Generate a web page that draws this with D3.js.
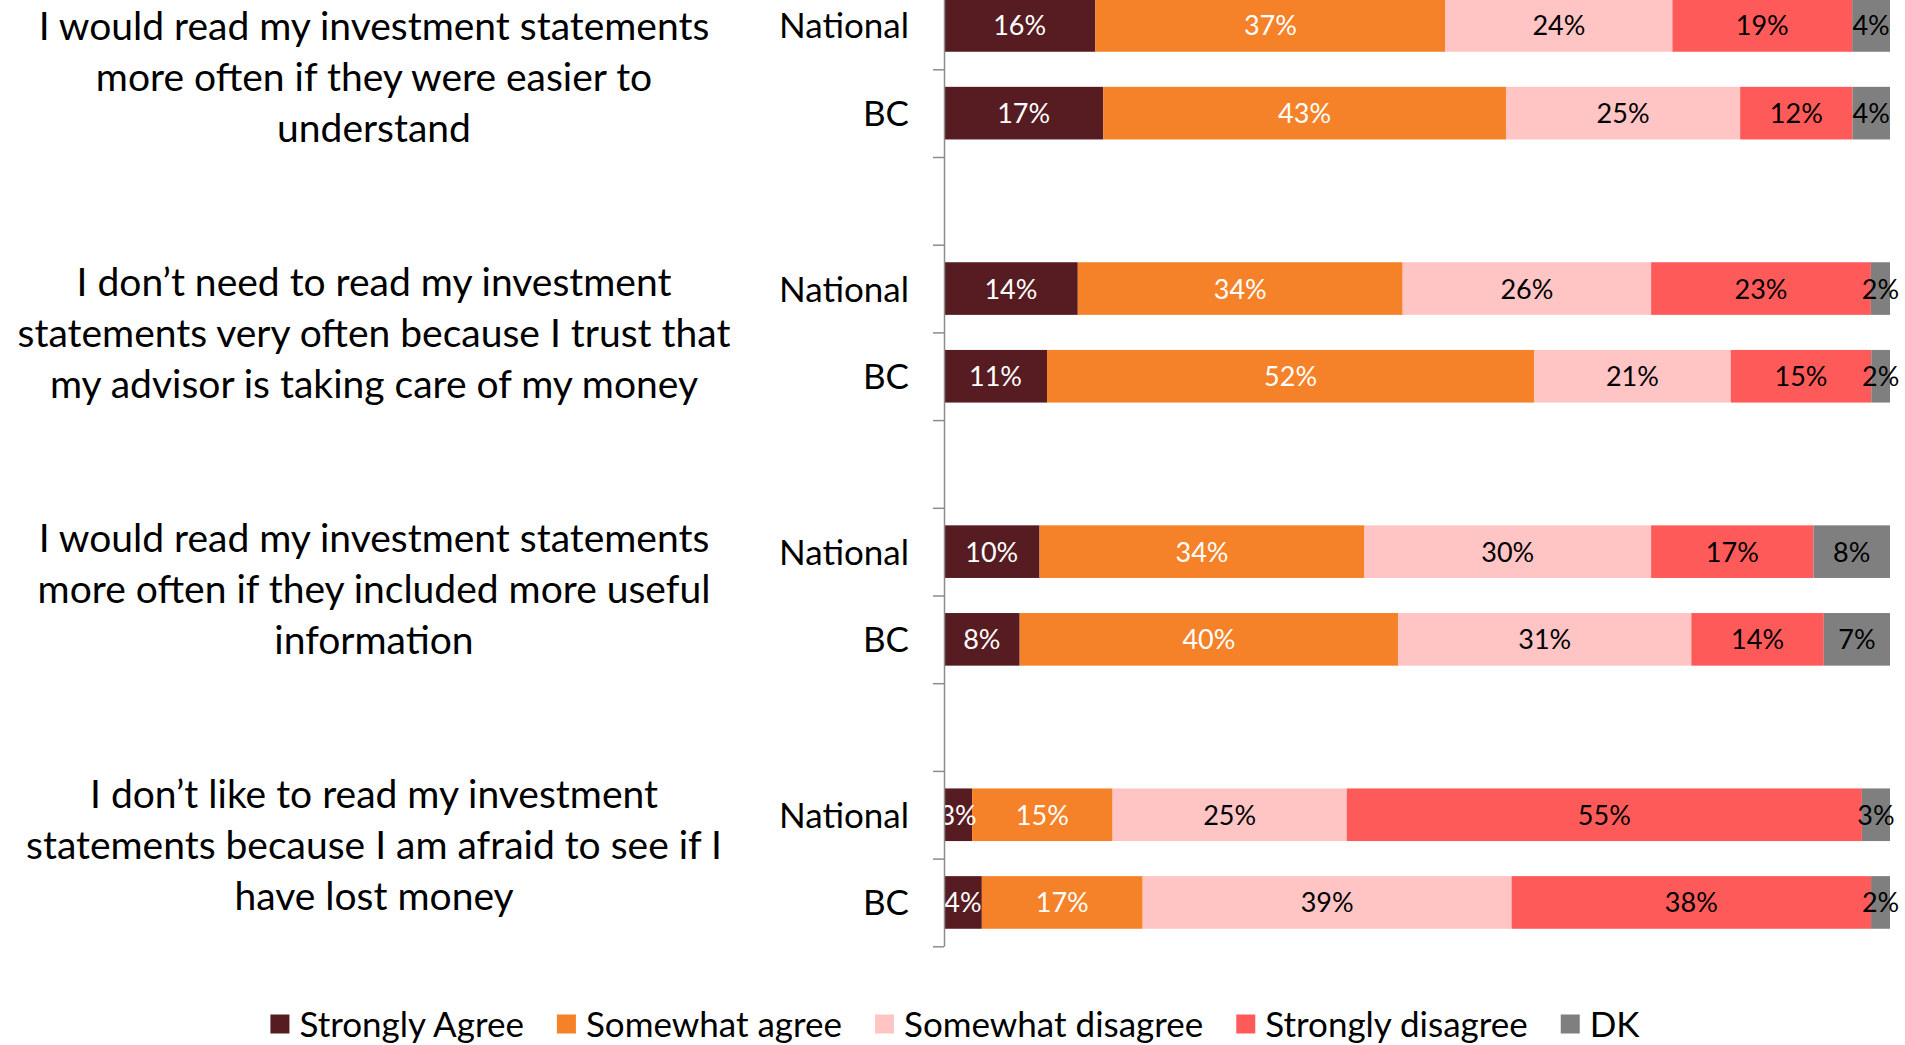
<!DOCTYPE html>
<html>
<head>
<meta charset="utf-8">
<script src="https://cdn.jsdelivr.net/npm/d3@7"></script>
<style>
  html, body { margin: 0; padding: 0; background: #fff; }
  svg { display: block; font-family: Lato, "Open Sans", sans-serif; }
</style>
</head>
<body>
<svg id="chart" width="1905" height="1045"></svg>
<script>
// Survey statements, each split into the lines shown beside its pair of bars
const questions = [
  ["I would read my investment statements", "more often if they were easier to", "understand"],
  ["I don\u2019t need to read my investment", "statements very often because I trust that", "my advisor is taking care of my money"],
  ["I would read my investment statements", "more often if they included more useful", "information"],
  ["I don\u2019t like to read my investment", "statements because I am afraid to see if I", "have lost money"]
];
const regions = ["National", "BC"];
const series = ["Strongly Agree", "Somewhat agree", "Somewhat disagree", "Strongly disagree", "DK"];

// One value per bar, ordered Q1 National, Q1 BC, Q2 National, Q2 BC, ...
const stronglyAgree    = [16, 17, 14, 11, 10,  8,  3,  4];
const somewhatAgree    = [37, 43, 34, 52, 34, 40, 15, 17];
const somewhatDisagree = [24, 25, 26, 21, 30, 31, 25, 39];
const stronglyDisagree = [19, 12, 23, 15, 17, 14, 55, 38];
const dontKnow         = [ 4,  4,  2,  2,  8,  7,  3,  2];

const colors = ["#561C21", "#F58228", "#FFC4C4", "#FF5A5A", "#7F7F7F"];
const labelColors = ["#ffffff", "#ffffff", "#000000", "#000000", "#000000"];

// Rows of the table the stack is built from
const valueArrays = [stronglyAgree, somewhatAgree, somewhatDisagree, stronglyDisagree, dontKnow];
const rows = [];
questions.forEach((q, qi) => {
  regions.forEach((r, ri) => {
    const idx = qi * regions.length + ri;
    const row = { key: `q${qi}-${r}`, region: r };
    series.forEach((s, si) => { row[s] = valueArrays[si][idx]; });
    rows.push(row);
  });
});

// Category slots: National, BC, then an empty spacer between statements
const slots = [];
questions.forEach((q, qi) => {
  regions.forEach(r => slots.push(`q${qi}-${r}`));
  if (qi < questions.length - 1) slots.push(`q${qi}-gap`);
});

const svg = d3.select("#chart");

const axisX = 944, barRight = 1890;
const yTop = -18.4, yBottom = 946.3;

const x = d3.scaleLinear().domain([0, 1]).range([axisX, barRight]);
const y = d3.scaleBand().domain(slots).range([yTop, yBottom])
  .paddingInner(0.4).paddingOuter(0.2);

// Positions of the tick marks at the boundaries between slots
const yEdge = d3.scaleLinear().domain([0, slots.length]).range([yTop, yBottom]);

const stack = d3.stack().keys(series).offset(d3.stackOffsetExpand);
const stacked = stack(rows);

// Bars
const layers = svg.append("g").selectAll("g")
  .data(stacked)
  .join("g")
  .attr("fill", (d, i) => colors[i]);

layers.selectAll("rect")
  .data(d => d)
  .join("rect")
  .attr("x", d => x(d[0]))
  .attr("y", d => y(d.data.key))
  .attr("width", d => x(d[1]) - x(d[0]))
  .attr("height", y.bandwidth());

// Value labels centred in each segment
svg.append("g").selectAll("g")
  .data(stacked)
  .join("g")
  .attr("fill", (d, i) => labelColors[i])
  .selectAll("text")
  .data(d => d.map(v => ({ v, key: d.key })))
  .join("text")
  .attr("x", d => (x(d.v[0]) + x(d.v[1])) / 2)
  .attr("y", d => y(d.v.data.key) + y.bandwidth() / 2)
  .attr("dy", "0.37em")
  .attr("text-anchor", "middle")
  .attr("font-size", 27)
  .text(d => d.v.data[d.key] + "%");

// Category axis
const axis = d3.axisLeft(yEdge)
  .tickValues(d3.range(slots.length + 1))
  .tickFormat("")
  .tickSizeInner(11)
  .tickSizeOuter(0);

const axisG = svg.append("g")
  .attr("transform", `translate(${axisX},0)`)
  .call(axis);
axisG.select(".domain").attr("stroke", "#8C8C8C").attr("stroke-width", 1.5);
axisG.selectAll(".tick line").attr("stroke", "#8C8C8C").attr("stroke-width", 1.5);

// Region names
svg.append("g").selectAll("text")
  .data(rows)
  .join("text")
  .attr("x", axisX - 35)
  .attr("y", d => y(d.key) + y.bandwidth() / 2)
  .attr("dy", "0.37em")
  .attr("text-anchor", "end")
  .attr("font-size", 35)
  .attr("fill", "#000")
  .text(d => d.region);

// Statement text blocks
const qY = d3.scalePoint().domain(d3.range(questions.length)).range([91, 859]);
const lineGap = 51;
const qG = svg.append("g").selectAll("text")
  .data(questions)
  .join("text")
  .attr("text-anchor", "middle")
  .attr("font-size", 39)
  .attr("fill", "#000");
qG.selectAll("tspan")
  .data((d, i) => d.map((line, li) => ({ line, li, qi: i, n: d.length })))
  .join("tspan")
  .attr("x", 374)
  .attr("y", d => qY(d.qi) + (d.li - (d.n - 1) / 2) * lineGap)
  .text(d => d.line);

// Legend, laid out from the measured text widths and centred under the chart
const legendY = 1024, sw = 19, swGap = 10, itemGap = 33;
const legend = svg.append("g");
const items = legend.selectAll("g")
  .data(series)
  .join("g");
items.append("rect")
  .attr("width", sw).attr("height", sw)
  .attr("y", legendY - sw / 2)
  .attr("fill", (d, i) => colors[i]);
items.append("text")
  .attr("x", sw + swGap)
  .attr("y", legendY)
  .attr("dy", "0.36em")
  .attr("font-size", 35)
  .attr("fill", "#000")
  .text(d => d);

let cursor = 0;
const offsets = [];
items.each(function () {
  offsets.push(cursor);
  const w = d3.select(this).select("text").node().getComputedTextLength();
  cursor += sw + swGap + w + itemGap;
});
const totalW = cursor - itemGap;
const legendStart = 955 - totalW / 2;
items.attr("transform", (d, i) => `translate(${legendStart + offsets[i]},0)`);
</script>
</body>
</html>
